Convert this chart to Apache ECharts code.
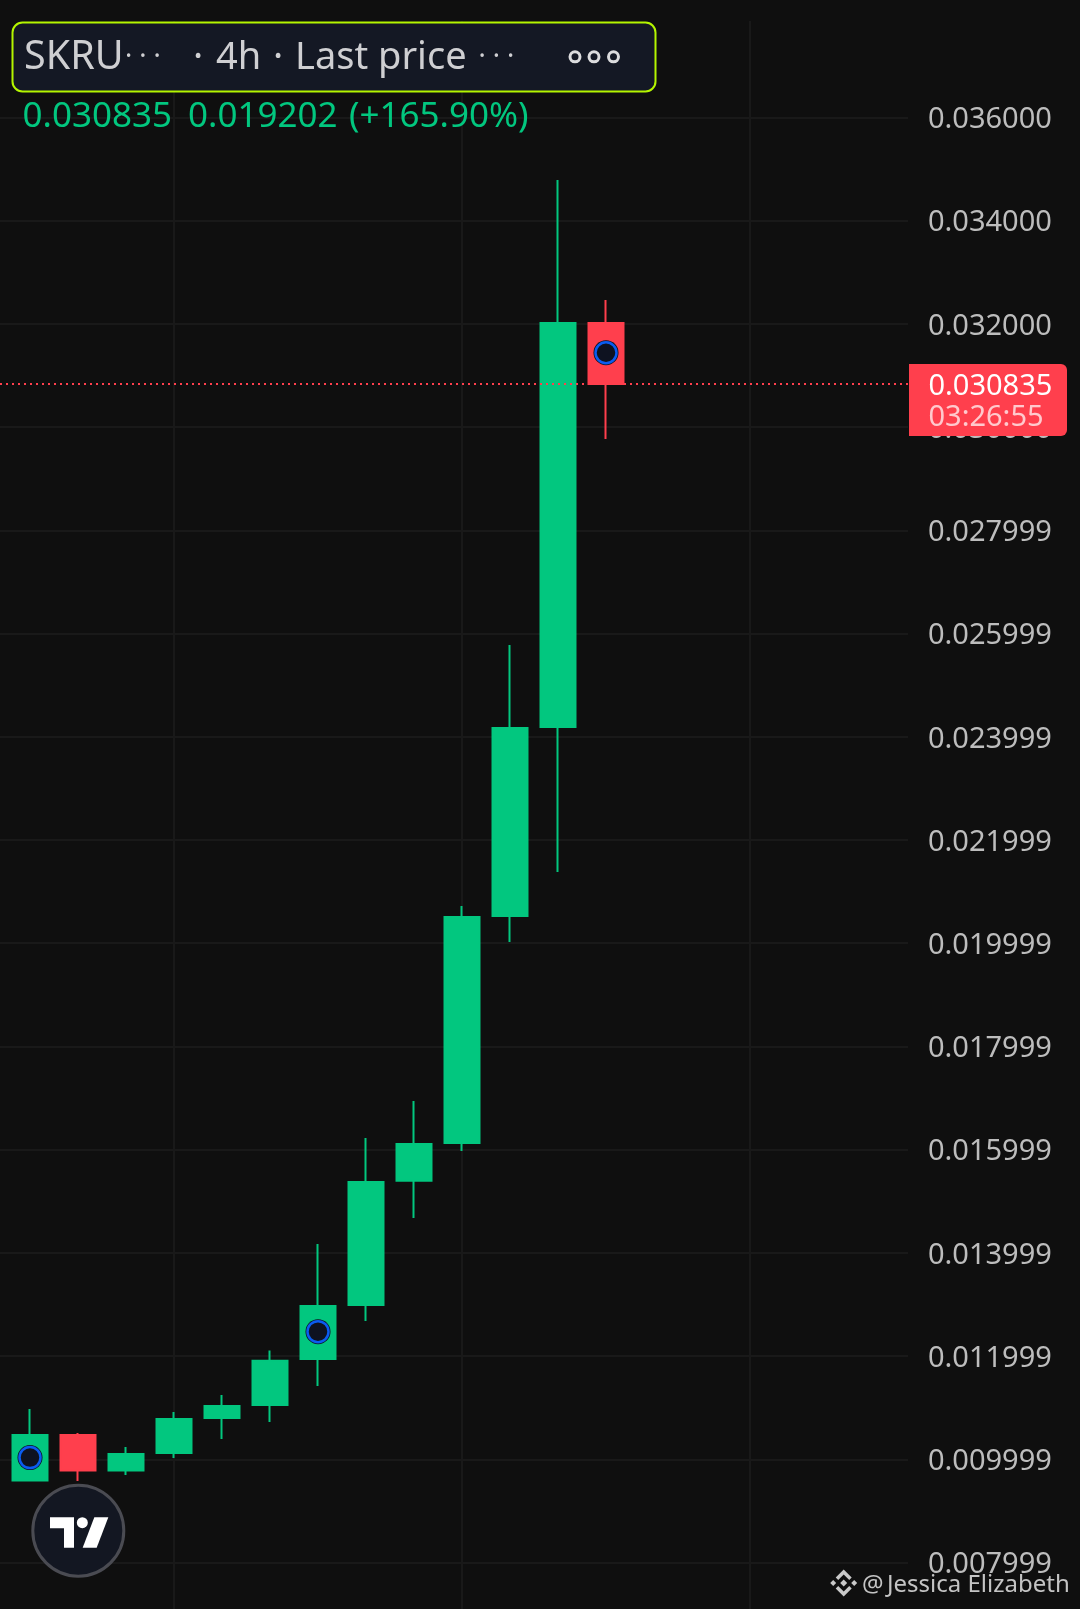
<!DOCTYPE html>
<html>
<head>
<meta charset="utf-8">
<style>html,body{margin:0;padding:0;background:#0f0f0f}#c{width:1080px;height:1609px}</style>
<script src="https://cdn.jsdelivr.net/npm/echarts@6/dist/echarts.min.js"></script>
</head>
<body>
<div id="c"></div>
<script>
const categories = ['b0','b1','b2','b3','b4','b5','b6','b7','b8','b9','b10','b11','b12','b13','b14','b15','b16','b17','b18','b19','b20'];
const opens  = [0.009588,0.010472,0.009782,0.010124,0.010803,0.011054,0.011946,0.012992,0.015395,0.016131,0.020529,0.024190,0.032016];
const closes = [0.010472,0.009782,0.010104,0.010782,0.011034,0.011912,0.012971,0.015374,0.016110,0.020508,0.024170,0.032016,0.030835];
const lows   = [0.009568,0.009580,0.009698,0.010027,0.010396,0.010725,0.011422,0.012681,0.014677,0.015975,0.020024,0.021380,0.029769];
const highs  = [0.010977,0.010510,0.010240,0.010918,0.011248,0.012110,0.014173,0.016227,0.016944,0.020722,0.025778,0.034787,0.032462];
const markerBars = ['b1','b7','b13'];
const markerValues = [0.010033,0.012474,0.031441];
const gridBars = ['b4','b10','b16'];
const priceTicks = ['0.007999','0.009999','0.011999','0.013999','0.015999','0.017999','0.019999','0.021999','0.023999','0.025999','0.027999','0.030000','0.032000','0.034000','0.036000'];
const lastPrice = 0.030835;
const timer = '03:26:55';

const UP='#02C77F', DOWN='#FF3F4D', BG='#0f0f0f', GRID='#191919', FONT='"Noto Sans"';
const candleData = opens.map((o,i)=>[categories[i+1],o,closes[i],lows[i],highs[i]]);
const markers = markerBars.map((b,i)=>[b,markerValues[i]]);

function txt(x,y,text,size,fill){
  return {type:'text',x:x,y:y,z:100,silent:true,style:{text:text,font:size+'px '+FONT,fill:fill,verticalAlign:'middle'}};
}
const LOGO_X=0, LOGO_Y=1380;
const zp=(a)=>a.map(p=>[p[0]/3+LOGO_X,p[1]/3+LOGO_Y]);
const wx=843.7, wy=1583;
const wm=(pts)=>pts.map(p=>[wx+p[0],wy+p[1]]);
const WM='#c9c9c9', PILLTXT='#cfcfd2';
const poly=(points,fill)=>({type:'polygon',z:100,silent:true,shape:{points:points},style:{fill:fill}});
const graphics=[
  {type:'rect',z:99,silent:true,shape:{x:12.5,y:22.5,width:643,height:69,r:10},style:{fill:'#141824',stroke:'#B4F500',lineWidth:2}},
  txt(24,58,'SKRU',39.5,PILLTXT),
  txt(125,57,'· · ·',27,PILLTXT),
  txt(193,58,'·',38,PILLTXT),
  txt(216,58,'4h',38,PILLTXT),
  txt(273,58,'·',38,PILLTXT),
  txt(295,58,'Last price',38,PILLTXT),
  txt(478.5,57,'· · ·',27,PILLTXT),
  {type:'circle',z:100,silent:true,shape:{cx:575,cy:56.8,r:5},style:{fill:'none',stroke:'#dcdcde',lineWidth:3}},
  {type:'circle',z:100,silent:true,shape:{cx:594,cy:56.8,r:5},style:{fill:'none',stroke:'#dcdcde',lineWidth:3}},
  {type:'circle',z:100,silent:true,shape:{cx:613.5,cy:56.8,r:5},style:{fill:'none',stroke:'#dcdcde',lineWidth:3}},
  txt(22.5,117,'0.030835',35,UP),
  txt(188,117,'0.019202',35,UP),
  txt(349,117,'(+165.90%)',35,UP),
  {type:'rect',z:99,silent:true,shape:{x:909,y:364,width:158,height:72,r:[0,6,6,0]},style:{fill:DOWN}},
  txt(928.5,387,lastPrice.toFixed(6),29,'#ffffff'),
  txt(928.5,418,timer,29,'#ffc9cd'),
  {type:'circle',z:100,silent:true,shape:{cx:78.3,cy:1530.7,r:45.5},style:{fill:'#131722',stroke:'#4a4b52',lineWidth:3}},
  poly(zp([[150,412],[222,412],[222,503],[192,503],[192,445],[150,445]]),'#ffffff'),
  {type:'circle',z:100,silent:true,shape:{cx:247/3,cy:1380+428/3,r:5.5},style:{fill:'#ffffff'}},
  poly(zp([[283,412],[325,412],[290,503],[248,503]]),'#ffffff'),
  poly(wm([[0,-13.5],[8,-5.5],[5.5,-3],[0,-8.5],[-5.5,-3],[-8,-5.5]]),WM),
  poly(wm([[0,13.5],[8,5.5],[5.5,3],[0,8.5],[-5.5,3],[-8,5.5]]),WM),
  poly(wm([[0,-3.5],[3.5,0],[0,3.5],[-3.5,0]]),WM),
  poly(wm([[-10.5,-3],[-7.5,0],[-10.5,3],[-13.5,0]]),WM),
  poly(wm([[10.5,-3],[13.5,0],[10.5,3],[7.5,0]]),WM),
  txt(862,1585,'@',24,'#c4c4c4'),
  txt(887,1585,'Jessica Elizabeth',24,'#c4c4c4')
];

const option={
  animation:false,
  backgroundColor:BG,
  textStyle:{fontFamily:FONT},
  grid:[
    {left:0,width:908,top:117.4,height:1445.2,containLabel:false,outerBoundsMode:'none'},
    {left:-18,width:960,top:21,height:1588,containLabel:false,outerBoundsMode:'none'}
  ],
  xAxis:[
    {type:'value',gridIndex:0,min:0,max:1,show:false,splitLine:{show:false}},
    {type:'category',gridIndex:1,data:categories,boundaryGap:false,
     axisLine:{show:false},axisTick:{show:false},axisLabel:{show:false},
     splitLine:{show:true,interval:(i,v)=>gridBars.includes(v),lineStyle:{color:GRID,width:2}}}
  ],
  yAxis:[
    {type:'value',gridIndex:0,position:'right',min:0.008,max:0.036,interval:0.002,
     axisLine:{show:false},axisTick:{show:false},
     axisLabel:{margin:20,fontFamily:FONT,fontSize:29,color:'#bdbdbd',align:'left',verticalAlign:'top',lineHeight:5,
       formatter:(v,i)=>priceTicks[i]},
     splitLine:{show:true,lineStyle:{color:GRID,width:2}}},
    {type:'value',gridIndex:1,min:0.0071,max:0.0378677,show:false,splitLine:{show:false}}
  ],
  series:[
    {type:'line',xAxisIndex:0,yAxisIndex:0,data:[],silent:true,
     markLine:{silent:true,symbol:'none',precision:6,label:{show:false},animation:false,
       lineStyle:{color:DOWN,type:[2,4],width:2},data:[{yAxis:lastPrice}]}},
    {type:'candlestick',xAxisIndex:1,yAxisIndex:1,barWidth:36,clip:true,
     encode:{x:0,y:[1,2,3,4]},
     itemStyle:{color:UP,color0:DOWN,borderColor:UP,borderColor0:DOWN,borderWidth:2},
     data:candleData},
    {type:'scatter',xAxisIndex:1,yAxisIndex:1,symbol:'circle',symbolSize:25,z:3,silent:true,
     itemStyle:{color:'#0e1220',opacity:1},data:markers},
    {type:'scatter',xAxisIndex:1,yAxisIndex:1,symbol:'circle',symbolSize:21,z:4,silent:true,
     itemStyle:{color:'#0e1220',borderColor:'#0B5CF0',borderWidth:2.5,opacity:1},data:markers}
  ],
  graphic:{elements:graphics}
};
const chart=echarts.init(document.getElementById('c'),null,{renderer:'canvas',width:1080,height:1609});
chart.setOption(option);
</script>
</body>
</html>
